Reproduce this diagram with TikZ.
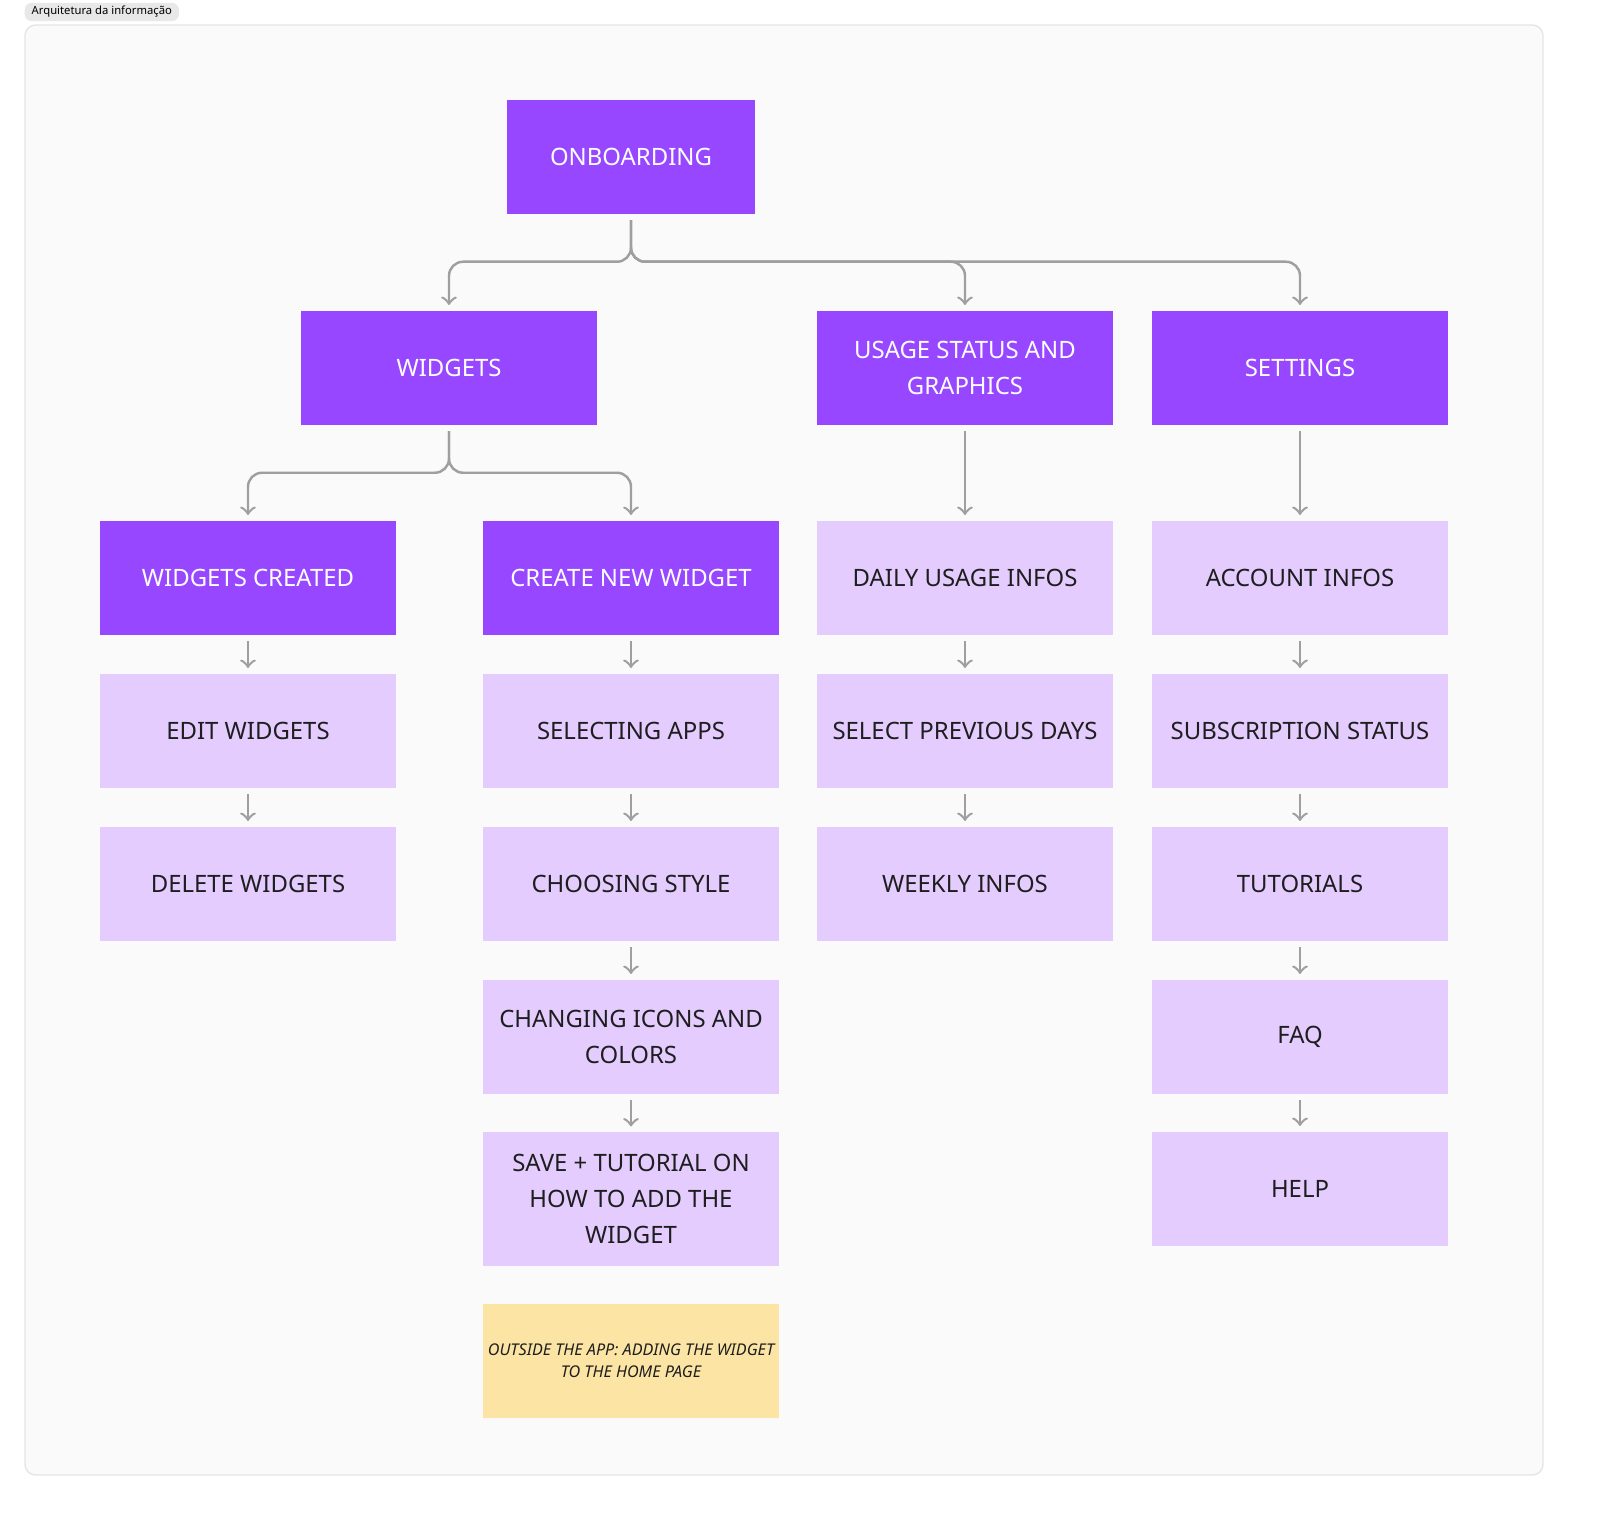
\documentclass[tikz,border=0pt]{standalone}
\usepackage{fontspec}
\setmainfont{Noto Sans}
\usetikzlibrary{positioning,calc}
\definecolor{darkpurple}{HTML}{9747FF}
\definecolor{lightpurple}{HTML}{E4CCFF}
\definecolor{notey}{HTML}{FCE5A4}
\definecolor{inktext}{HTML}{1E1E1E}
\tikzset{box/.style={minimum width=2.96cm,minimum height=1.14cm,inner sep=1pt,align=center,font=\fontsize{6.8}{10.2}\selectfont},
         main/.style={box,fill=darkpurple,text=white},
         sub/.style={box,fill=lightpurple,text=inktext},
         note/.style={box,fill=notey,text=inktext,font=\fontsize{4.6}{6.3}\selectfont\itshape},
         conn/.style={draw=gray!75,line width=0.7pt,->,>=to,rounded corners=4pt,shorten >=1.5pt,shorten <=1.5pt}
}
\begin{document}
\begin{tikzpicture}[x=0.01cm,y=-0.01cm]
\useasboundingbox (0,0) rectangle (1600,1531);
\draw[fill=gray!4,draw=gray!20,rounded corners=3pt] (25,25) rectangle (1543,1475);
\node[fill=gray!18,rounded corners=2pt,inner xsep=2pt,inner ysep=1pt,font=\fontsize{3.2}{4}\selectfont,anchor=west] (title) at (24,12) {Arquitetura da informação};

\node[main,minimum width=2.48cm] (onb) at (631,157) {ONBOARDING};
\node[main] (wid) at (449,368) {WIDGETS};
\node[main] (usage) at (965,368) {USAGE STATUS AND\\GRAPHICS};
\node[main] (set) at (1300,368) {SETTINGS};

\node[main] (created) at (248,578) {WIDGETS CREATED};
\node[sub] (edit) at (248,731) {EDIT WIDGETS};
\node[sub] (delete) at (248,884) {DELETE WIDGETS};

\node[main] (create) at (631,578) {CREATE NEW WIDGET};
\node[sub] (apps) at (631,731) {SELECTING APPS};
\node[sub] (style) at (631,884) {CHOOSING STYLE};
\node[sub] (icons) at (631,1037) {CHANGING ICONS AND\\COLORS};
\node[sub,minimum height=1.33cm] (save) at (631,1199) {SAVE + TUTORIAL ON\\HOW TO ADD THE\\WIDGET};
\node[note] (outside) at (631,1361) {OUTSIDE THE APP: ADDING THE WIDGET\\TO THE HOME PAGE};

\node[sub] (daily) at (965,578) {DAILY USAGE INFOS};
\node[sub] (prev) at (965,731) {SELECT PREVIOUS DAYS};
\node[sub] (weekly) at (965,884) {WEEKLY INFOS};

\node[sub] (account) at (1300,578) {ACCOUNT INFOS};
\node[sub] (subs) at (1300,731) {SUBSCRIPTION STATUS};
\node[sub] (tut) at (1300,884) {TUTORIALS};
\node[sub] (faq) at (1300,1037) {FAQ};
\node[sub] (help) at (1300,1189) {HELP};

\draw[conn] (onb.south) -- ++(0,47) -| (wid.north);
\draw[conn] (onb.south) -- ++(0,47) -| (usage.north);
\draw[conn] (onb.south) -- ++(0,47) -| (set.north);
\draw[conn] (wid.south) -- ++(0,47) -| (created.north);
\draw[conn] (wid.south) -- ++(0,47) -| (create.north);
\draw[conn] (usage) -- (daily);
\draw[conn] (set) -- (account);

\draw[conn] (created) -- (edit);
\draw[conn] (edit) -- (delete);
\draw[conn] (create) -- (apps);
\draw[conn] (apps) -- (style);
\draw[conn] (style) -- (icons);
\draw[conn] (icons) -- (save);
\draw[conn] (daily) -- (prev);
\draw[conn] (prev) -- (weekly);
\draw[conn] (account) -- (subs);
\draw[conn] (subs) -- (tut);
\draw[conn] (tut) -- (faq);
\draw[conn] (faq) -- (help);

\end{tikzpicture}
\end{document}
